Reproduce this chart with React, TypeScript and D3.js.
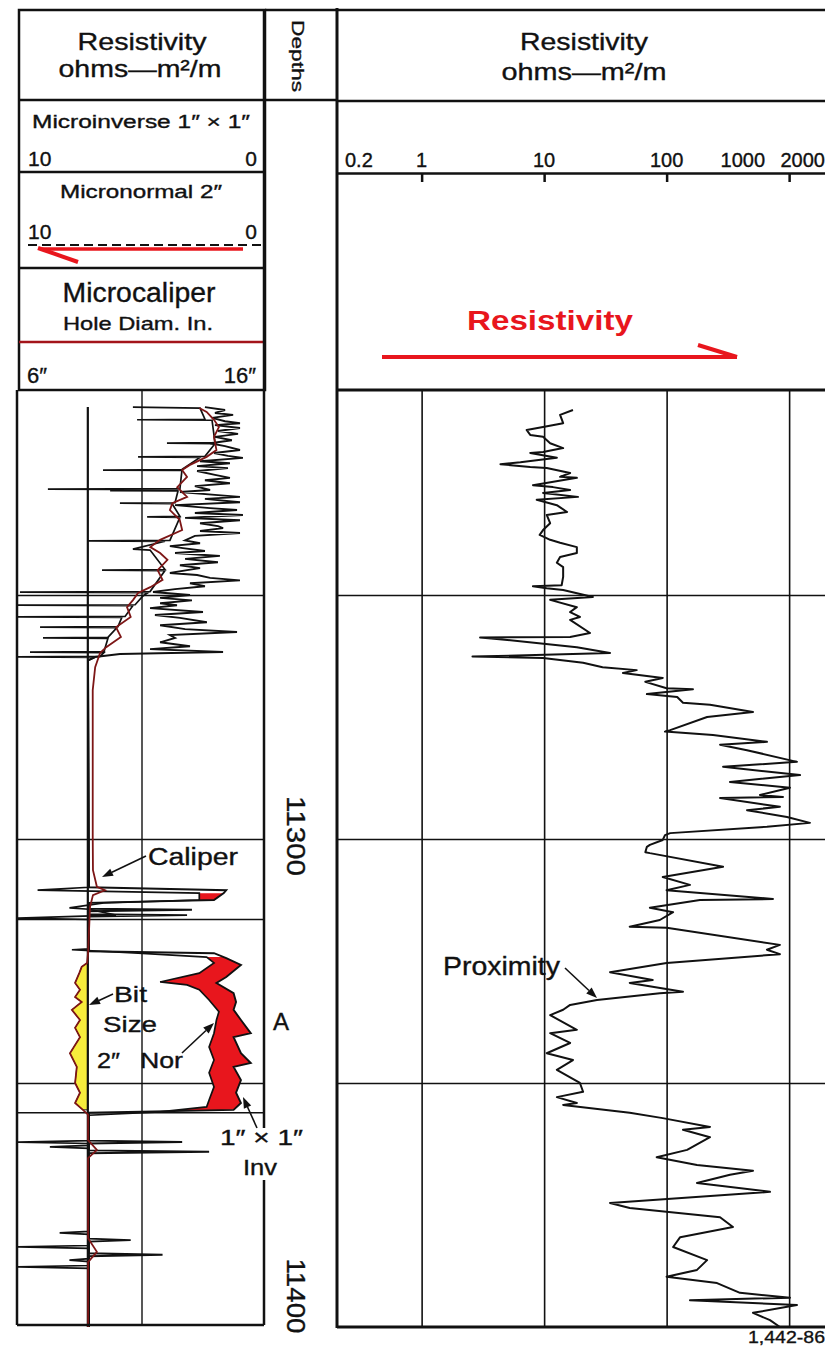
import React, { useEffect, useRef } from 'react';
import * as d3 from 'd3';

type Pt = [number, number];

const W = 825;
const H = 1347;

// depth (ft) scale and grid
const depthDomain = [11208, 11400];
const depthGrid = [11250, 11300, 11350];
const leftGridDepths = [11250, 11300, 11316.4, 11350, 11356];
const depthLabels = [11300, 11400];

// resistivity track (log)
const resDomain = [0.2, 2000];
const resGrid = [1, 10, 100, 1000];
const resLabels = ['0.2', '1', '10', '100', '1000', '2000'];
const resLabelValues = [0.2, 1, 10, 100, 1000, 2000];

// microlog scales
const microDomain = [10, 0];
const caliperDomain = [6, 16];
const BIT_SIZE = 8.85;
const bitSizeTop = 11211.5;

// [depth, ohm-m]
const proximity: Pt[] = [
  [11212.1, 17.2], [11213.1, 13.5], [11214.8, 14.3], [11215.6, 9.8], [11216.2, 7.2], [11217.2, 7.7],
  [11217.6, 9.8], [11218.9, 11.2], [11219.9, 14.3], [11220.7, 9.8], [11220.9, 7.7], [11221.9, 12.7],
  [11222.8, 6.4], [11223.2, 4.4], [11223.8, 7.7], [11224.0, 10.5], [11225.0, 16.3], [11225.8, 13.5],
  [11226.0, 18.5], [11227.5, 8.1], [11227.9, 11.8], [11228.5, 16.3], [11229.1, 9.8], [11229.9, 18.9],
  [11230.5, 8.7], [11231.6, 12.7], [11233.0, 15.4], [11233.6, 10.5], [11235.3, 11.2], [11236.7, 9.8],
  [11237.7, 9.2], [11238.7, 11.2], [11239.3, 13.5], [11240.2, 18.5], [11241.4, 18.5], [11242.2, 13.5],
  [11243.4, 12.7], [11244.3, 14.3], [11246.3, 14.3], [11248.0, 13.9], [11248.2, 8.1], [11248.6, 10.5],
  [11249.0, 14.3], [11250.4, 25], [11251.0, 11.2], [11252.5, 18.5], [11253.5, 16.3], [11254.5, 19.6],
  [11255.1, 16.3], [11257.8, 23.7], [11258.6, 16.3], [11258.7, 3.0], [11259.0, 4.1], [11260.7, 18.5],
  [11261.9, 34.5], [11262.4, 6.0], [11262.6, 2.6], [11262.9, 9.8], [11263.9, 20.8], [11264.8, 30],
  [11265.4, 57], [11266.0, 44], [11267.0, 93], [11267.8, 67], [11269.1, 100], [11269.3, 164],
  [11270.3, 69], [11270.9, 122], [11272.1, 136], [11272.5, 226], [11274.0, 507], [11275.0, 214],
  [11277.7, 107], [11278.0, 97], [11278.7, 239], [11280.1, 659], [11280.7, 273], [11281.8, 453],
  [11284.2, 1159], [11285.2, 289], [11286.9, 1227], [11288.3, 329], [11289.5, 1016], [11291.0, 578],
  [11291.4, 891], [11291.6, 273], [11293.4, 841], [11294.1, 453], [11295.5, 961], [11296.7, 1479],
  [11297.5, 659], [11298.8, 107], [11299.2, 97], [11300.2, 93], [11301.2, 73], [11301.6, 69],
  [11302.7, 67], [11302.9, 73], [11305.7, 289], [11307.8, 93], [11309.4, 155], [11310.5, 100],
  [11312.3, 738], [11312.5, 187], [11314.1, 73], [11315.0, 113], [11316.6, 88], [11318.0, 50],
  [11318.2, 100], [11321.7, 841], [11322.7, 659], [11323.6, 841], [11325.4, 100], [11327.3, 34.5],
  [11328.9, 77], [11329.5, 50], [11331.3, 136], [11331.6, 88], [11333.0, 27], [11334.0, 16.3],
  [11335.0, 14.3], [11336.1, 11.2], [11339.1, 18.5], [11339.8, 11.2], [11341.8, 16.3], [11343.9, 10.5],
  [11345.3, 17.2], [11347.3, 12.7], [11350.0, 19.6], [11351.8, 20.8], [11352.9, 12.7], [11354.1, 18.5],
  [11354.5, 14.3], [11356.1, 50], [11357.2, 93], [11359.0, 226], [11359.6, 136], [11361.1, 226],
  [11363.7, 147], [11365.2, 83], [11366.8, 177], [11368.0, 507], [11368.8, 329], [11370.5, 177],
  [11372.3, 698], [11374.6, 34.5], [11375.6, 50], [11377.5, 273], [11379.5, 348], [11381.6, 129],
  [11383.6, 113], [11386.3, 214], [11388.3, 177], [11389.7, 100], [11391.0, 258], [11393.0, 397],
  [11394.0, 1016], [11394.5, 155], [11395.5, 1159], [11397.1, 507], [11398.6, 698], [11400.0, 841],
];

// [depth, inches]
const caliper: Pt[] = [
  [11211.7, 13.4], [11212.5, 13.7], [11214.1, 14.0], [11215.6, 14.2], [11217.6, 14.0], [11220.3, 14.1],
  [11221.7, 13.7], [11223.4, 13.0], [11224.4, 12.7], [11225.8, 12.9], [11227.9, 12.5], [11229.9, 12.9],
  [11231.2, 12.3], [11232.6, 12.2], [11234.6, 12.6], [11236.7, 12.7], [11238.7, 11.8], [11240.2, 11.4],
  [11241.4, 11.8], [11242.8, 12.1], [11244.9, 11.7], [11246.9, 11.9], [11248.4, 11.4], [11249.6, 10.9],
  [11251.0, 10.7], [11252.5, 10.45], [11254.5, 10.6], [11256.6, 10.0], [11258.6, 10.2], [11260.7, 9.6],
  [11261.9, 9.35], [11264.8, 9.15], [11269.5, 9.05], [11279.7, 9.05], [11299.6, 9.05], [11306.4, 9.06],
  [11309.8, 9.22], [11310.5, 9.55], [11311.5, 9.06], [11313.9, 8.94], [11323.4, 8.86], [11325.4, 8.82],
  [11326.2, 8.6], [11327.5, 8.5], [11329.5, 8.33], [11330.9, 8.53], [11332.4, 8.33], [11333.4, 8.6],
  [11335.0, 8.2], [11337.1, 8.53], [11338.7, 8.33], [11340.6, 8.53], [11343.9, 8.12], [11346.7, 8.4],
  [11350.0, 8.33], [11352.0, 8.53], [11354.1, 8.33], [11355.5, 8.65], [11356.5, 8.86], [11361.7, 8.86],
  [11363.7, 9.22], [11365.4, 8.86], [11381.8, 8.86], [11384.6, 9.22], [11386.7, 8.86], [11400, 8.86],
];

// [depth, ohm-m] 1" x 1" microinverse
const microinverse: Pt[] = [
  [11211.5, 2.37], [11212.1, 1.55], [11212.7, 1.96], [11213.1, 1.22], [11213.7, 2.08], [11214.4, 1.55],
  [11214.8, 0.94], [11215.2, 1.96], [11215.8, 0.94], [11216.4, 1.84], [11217.0, 1.02], [11217.6, 1.96],
  [11218.3, 1.27], [11218.9, 2.16], [11219.5, 1.55], [11220.3, 0.94], [11220.9, 2.0], [11221.5, 1.43],
  [11221.9, 0.82], [11222.6, 2.57], [11223.0, 1.35], [11223.6, 2.69], [11224.0, 1.43], [11224.6, 2.69],
  [11225.4, 1.96], [11226.0, 1.35], [11226.5, 2.37], [11227.1, 1.35], [11227.7, 2.78], [11228.5, 2.16],
  [11228.9, 3.39], [11229.5, 1.96], [11229.9, 0.94], [11230.3, 2.37], [11231.0, 0.94], [11231.6, 3.59],
  [11232.2, 2.16], [11232.6, 1.06], [11233.2, 2.78], [11233.6, 0.82], [11234.2, 3.18], [11234.7, 0.94],
  [11235.3, 2.57], [11235.9, 1.84], [11236.3, 1.63], [11236.9, 2.57], [11237.3, 0.94], [11237.9, 2.78],
  [11238.8, 3.18], [11239.4, 2.57], [11240.0, 3.8], [11240.4, 3.27], [11241.0, 2.37], [11241.4, 3.59],
  [11242.0, 1.76], [11242.6, 3.18], [11243.3, 1.84], [11243.9, 3.39], [11244.5, 2.57], [11244.9, 3.1],
  [11245.5, 3.8], [11245.9, 2.69], [11246.5, 2.16], [11247.0, 0.94], [11247.6, 2.98], [11248.2, 2.37],
  [11248.8, 3.59], [11249.4, 4.49], [11250.0, 2.98], [11250.6, 4.2], [11251.1, 2.9], [11251.7, 4.2],
  [11252.1, 3.51], [11252.7, 4.61], [11253.5, 2.45], [11254.1, 4.41], [11254.7, 3.39], [11255.6, 2.29],
  [11256.2, 4.2], [11257.0, 3.18], [11257.6, 1.06], [11258.2, 3.8], [11258.8, 3.59], [11259.7, 4.2],
  [11260.5, 2.98], [11261.1, 4.61], [11261.7, 1.63], [11262.1, 5.84], [11262.7, 6.86], [11263.4, 7.14],
  [11309.9, 7.1], [11310.5, 1.5], [11311.1, 1.6], [11312.5, 2.0],
  [11313.1, 7.1], [11314.3, 7.1], [11314.5, 2.9], [11314.8, 7.1], [11315.4, 7.1], [11315.6, 3.1],
  [11315.9, 7.1], [11323.0, 7.1], [11323.4, 2.0], [11324.4, 1.5], [11325.8, 0.9], [11328.3, 1.5],
  [11329.5, 1.9], [11331.6, 1.2], [11333.4, 1.1], [11335.0, 1.2], [11337.1, 0.9], [11339.8, 0.5],
  [11340.6, 1.2], [11343.9, 0.9], [11345.9, 0.5], [11346.7, 1.2], [11349.4, 0.9], [11352.0, 1.1],
  [11354.1, 0.9], [11355.5, 1.2], [11356.1, 7.1], [11361.8, 7.1], [11362.1, 3.3], [11362.4, 7.1],
  [11363.8, 7.1], [11364.1, 2.2], [11364.4, 7.1], [11381.9, 7.1], [11382.2, 5.4], [11382.5, 7.1],
  [11384.9, 7.1], [11385.2, 4.1], [11385.5, 7.1], [11400, 7.1],
];

// [depth, ohm-m] 2" micronormal
const micronormal: Pt[] = [
  [11211.5, 5.31], [11211.7, 2.57],
  [11214.0, 2.37], [11214.1, 5.14], [11214.2, 2.08],
  [11218.8, 1.96], [11218.9, 3.92], [11219.0, 1.96],
  [11221.6, 2.37], [11221.7, 5.1], [11221.8, 2.57],
  [11224.3, 3.31], [11224.4, 6.53], [11224.5, 3.31],
  [11228.2, 3.39], [11228.3, 8.78], [11228.4, 3.47], [11228.6, 6.24], [11228.7, 3.47],
  [11231.1, 3.59], [11231.2, 5.84], [11231.3, 3.71],
  [11233.9, 3.39], [11234.0, 4.73], [11234.1, 3.39],
  [11238.8, 3.8], [11238.9, 7.14], [11239.0, 4.0],
  [11240.6, 5.31], [11240.8, 4.61],
  [11244.8, 4.0], [11244.9, 6.57], [11245.0, 4.0],
  [11249.3, 4.61], [11249.4, 9.92], [11249.5, 4.69],
  [11250.2, 4.9],
  [11252.0, 5.22], [11252.1, 10], [11252.2, 5.31],
  [11254.4, 5.63], [11254.5, 10], [11254.6, 5.76],
  [11256.5, 5.92], [11256.6, 9.1], [11256.7, 5.96],
  [11258.7, 6.33], [11258.8, 8.98], [11258.9, 6.33],
  [11261.6, 6.49], [11261.7, 9.51], [11261.8, 6.49],
  [11262.6, 6.65], [11262.7, 10], [11262.8, 6.86],
  [11263.4, 7.14],
  [11309.9, 7.1], [11310.5, 9.2], [11311.1, 2.6],
  [11312.5, 2.6], [11313.1, 6.5], [11314.1, 7.9], [11314.4, 7.1], [11315.6, 6.0], [11316.2, 10],
  [11316.5, 7.1], [11322.5, 7.1], [11322.7, 7.8], [11323.4, 5.1], [11324.2, 2.3], [11325.4, 2.0],
  [11327.5, 2.6], [11329.3, 4.2], [11329.9, 3.1], [11330.9, 2.6], [11333.0, 2.2], [11335.4, 1.8],
  [11337.1, 1.9], [11339.8, 2.0], [11342.6, 2.2], [11345.3, 2.0], [11347.9, 2.2], [11350.8, 2.0],
  [11353.5, 2.2], [11354.9, 2.3], [11355.9, 4.2], [11356.6, 7.1], [11361.8, 7.1], [11362.1, 10],
  [11362.4, 7.1], [11362.8, 7.1], [11363.1, 8.7], [11363.4, 7.1], [11380.4, 7.1], [11380.7, 8.3],
  [11381.0, 7.1], [11383.3, 7.1], [11383.6, 10], [11383.9, 7.1], [11386.0, 7.1], [11386.3, 7.9],
  [11386.6, 7.1], [11387.4, 7.1], [11387.7, 10], [11388.0, 7.1], [11400, 7.1],
];

// positive separation (normal > inverse) and mudcake zones
const redZones: Pt[] = [[11311.1, 11312.6], [11324.2, 11355.6]];
const yellowZone: Pt = [11325.4, 11355.5];

const FONT = "'Liberation Sans', Arial, Helvetica, sans-serif";
const RED = '#e8161d';
const YELLOW = '#f7ec3c';
const CAL = '#7d1616';

function interp(s: Pt[], d: number) {
  const i = d3.bisector((p: Pt) => p[0]).left(s, d);
  if (i <= 0) return s[0][1];
  if (i >= s.length) return s[s.length - 1][1];
  const a = s[i - 1], b = s[i];
  if (b[0] === d || b[0] === a[0]) return b[1];
  return a[1] + (b[1] - a[1]) * (d - a[0]) / (b[0] - a[0]);
}

export default function App() {
  const ref = useRef<SVGSVGElement>(null);

  useEffect(() => {
    const svg = d3.select(ref.current);
    svg.selectAll('*').remove();

    const y = d3.scaleLinear().domain(depthDomain).range([390, 1327]);
    const xRes = d3.scaleLog().domain(resDomain).range([336, 826]);
    const xMic = d3.scaleLinear().domain(microDomain).range([18, 263]);
    const xCal = d3.scaleLinear().domain(caliperDomain).range([18, 263]);

    svg.append('rect').attr('width', W).attr('height', H).attr('fill', '#fff');

    const line = (x1, y1, x2, y2, w = 2.5, color = '#111') =>
      svg.append('line').attr('x1', x1).attr('y1', y1).attr('x2', x2).attr('y2', y2)
        .attr('stroke', color).attr('stroke-width', w);

    const text = (x, yy, s, size, len?, anchor = 'middle', opt: any = {}) => {
      const t = svg.append('text').attr('x', x).attr('y', yy)
        .attr('font-family', FONT).attr('font-size', size)
        .attr('text-anchor', anchor).attr('fill', opt.fill || '#111')
        .attr('stroke', opt.fill || '#111').attr('stroke-width', opt.weight ? 0 : 0.35)
        .text(s);
      if (len) t.attr('textLength', len).attr('lengthAdjust', 'spacingAndGlyphs');
      if (opt.weight) t.attr('font-weight', opt.weight);
      if (opt.transform) t.attr('transform', opt.transform);
      return t;
    };

    const arrow = (x1, y1, x2, y2) => {
      const a = Math.atan2(y2 - y1, x2 - x1);
      const L = 11, w = 4;
      const bx = x2 - L * Math.cos(a), by = y2 - L * Math.sin(a);
      line(x1, y1, bx, by, 1.6);
      svg.append('polygon')
        .attr('points', [
          [x2, y2],
          [bx + w * Math.sin(a), by - w * Math.cos(a)],
          [bx - w * Math.sin(a), by + w * Math.cos(a)],
        ].map(p => p.join(',')).join(' '))
        .attr('fill', '#111');
    };

    // ---------- grids ----------
    svg.append('g').attr('transform', 'translate(0,390)')
      .call(d3.axisBottom(xRes).tickValues(resGrid).tickSize(937).tickFormat(() => ''))
      .call(g => g.select('.domain').remove())
      .call(g => g.selectAll('line').attr('stroke', '#111').attr('stroke-width', 1.6));
    svg.append('g').attr('transform', 'translate(337,0)')
      .call(d3.axisRight(y).tickValues(depthGrid).tickSize(489).tickFormat(() => ''))
      .call(g => g.select('.domain').remove())
      .call(g => g.selectAll('line').attr('stroke', '#111').attr('stroke-width', 1.6));
    svg.append('g').attr('transform', 'translate(17,0)')
      .call(d3.axisRight(y).tickValues(leftGridDepths).tickSize(247).tickFormat(() => ''))
      .call(g => g.select('.domain').remove())
      .call(g => g.selectAll('line').attr('stroke', '#111').attr('stroke-width', 1.4));
    line(142, 390, 142, 1325, 1.4);

    // ---------- fills ----------
    const sepArea = d3.area<number>()
      .y(d => y(d))
      .x0(d => xMic(interp(micronormal, d)))
      .x1(d => xMic(interp(microinverse, d)));
    redZones.forEach(([d0, d1]) => {
      const ds = Array.from(new Set([d0, d1, ...micronormal.map(p => p[0]), ...microinverse.map(p => p[0])]))
        .filter(d => d >= d0 && d <= d1).sort((a, b) => a - b);
      svg.append('path').attr('d', sepArea(ds)).attr('fill', RED);
    });
    const cakeArea = d3.area<Pt>()
      .y(d => y(d[0]))
      .x0(d => xCal(d[1]))
      .x1(() => xCal(BIT_SIZE));
    svg.append('path')
      .attr('d', cakeArea(caliper.filter(p => p[0] >= yellowZone[0] && p[0] <= yellowZone[1])))
      .attr('fill', YELLOW).attr('stroke', '#222').attr('stroke-width', 1);

    // ---------- curves ----------
    const micLine = d3.line<Pt>().x(d => xMic(d[1])).y(d => y(d[0]));
    svg.append('path').attr('d', micLine(micronormal)).attr('fill', 'none')
      .attr('stroke', '#111').attr('stroke-width', 1.7);
    svg.append('path').attr('d', micLine(microinverse)).attr('fill', 'none')
      .attr('stroke', '#111').attr('stroke-width', 1.9);

    line(xCal(BIT_SIZE), y(bitSizeTop), xCal(BIT_SIZE), y(11400), 2.2);

    const calLine = d3.line<Pt>().x(d => xCal(d[1])).y(d => y(d[0]));
    svg.append('path').attr('d', calLine(caliper)).attr('fill', 'none')
      .attr('stroke', CAL).attr('stroke-width', 1.8);

    const resLine = d3.line<Pt>().x(d => xRes(d[1])).y(d => y(d[0]));
    svg.append('path').attr('d', resLine(proximity)).attr('fill', 'none')
      .attr('stroke', '#111').attr('stroke-width', 2).attr('stroke-linejoin', 'round');

    // ---------- borders ----------
    svg.append('rect').attr('x', 19).attr('y', 10).attr('width', 246).attr('height', 380)
      .attr('fill', 'none').attr('stroke', '#111').attr('stroke-width', 2.5);
    line(19, 100, 265, 100);
    line(19, 172, 265, 172);
    line(19, 268, 265, 268);
    line(19, 342, 265, 342, 2.5, '#a3141a');
    line(28, 245, 264, 245, 1.8).attr('stroke-dasharray', '9 5');
    line(243, 249, 40, 249, 3.5, RED);
    line(38, 248, 78, 262, 4, RED);
    line(265, 10, 337, 10);
    line(265, 100, 337, 100);
    line(337, 10, 826, 10);
    line(337, 101, 826, 101);
    line(337, 390, 826, 390, 2.8);
    line(337, 8, 337, 1328, 3);
    svg.append('g').attr('transform', 'translate(0,173)')
      .call(d3.axisBottom(xRes).tickValues(resGrid).tickSize(9).tickSizeOuter(0).tickFormat(() => ''))
      .call(g => g.select('.domain').attr('stroke', '#111').attr('stroke-width', 2.5))
      .call(g => g.selectAll('line').attr('stroke', '#111').attr('stroke-width', 2.5));
    line(337, 1327, 826, 1327, 2.8);
    line(17, 390, 17, 1325);
    line(17, 1325, 264, 1325);
    line(264, 10, 264, 1325);

    // ---------- header text ----------
    text(142, 50, 'Resistivity', 24, 129);
    text(140, 77, 'ohms\u2014m\u00b2/m', 24, 163);
    text(141, 128, 'Microinverse 1\u2033 \u00d7 1\u2033', 18, 218);
    text(28, 166, '10', 21, null, 'start');
    text(257, 166, '0', 21, null, 'end');
    text(141, 198, 'Micronormal 2\u2033', 18, 162);
    text(28, 239, '10', 21, null, 'start');
    text(257, 239, '0', 21, null, 'end');
    text(139, 302, 'Microcaliper', 27, 153);
    text(138, 330, 'Hole Diam. In.', 19, 150);
    text(27, 383, '6\u2033', 22, null, 'start');
    text(256, 383, '16\u2033', 22, null, 'end');
    text(0, 0, 'Depths', 17, 72, 'middle', { transform: 'translate(292,56) rotate(90)' });

    text(584, 50, 'Resistivity', 24, 128);
    text(584, 80, 'ohms\u2014m\u00b2/m', 24, 165);
    resLabels.forEach((s, i) => {
      const v = resLabelValues[i];
      const first = i === 0, last = i === resLabels.length - 1;
      const x = first ? xRes(v) + 9 : last ? xRes(v) - 1 : s === '1000' ? xRes(v) - 24 : xRes(v);
      text(x, 167, s, 20, null, first ? 'start' : (last || s === '1000') ? 'end' : 'middle');
    });
    text(550, 330, 'Resistivity', 27, 166, 'middle', { fill: RED, weight: 'bold' });
    line(382, 357, 737, 357, 4, RED);
    line(737, 357, 698, 345, 4, RED);

    // ---------- depth column ----------
    depthLabels.forEach((d, i) => {
      const cy = i === depthLabels.length - 1 ? y(d) - 31 : y(d) - 3;
      text(0, 0, String(d), 25, i === 0 ? 80 : 75, 'middle', { transform: `translate(287,${cy}) rotate(90)` });
    });
    text(281, 1030, 'A', 24);

    // ---------- annotations ----------
    text(148, 865, 'Caliper', 23, 90, 'start');
    arrow(146, 856, 102, 877);
    text(114, 1002, 'Bit', 22, 33, 'start');
    text(103, 1032, 'Size', 22, 54, 'start');
    text(97, 1068, '2\u2033', 22, 23, 'start');
    text(140, 1068, 'Nor', 22, 43, 'start');
    arrow(113, 994, 89, 1005);
    arrow(182, 1053, 214, 1023);
    svg.append('rect').attr('x', 216).attr('y', 1128).attr('width', 90).attr('height', 52).attr('fill', '#fff');
    text(220, 1145, '1\u2033 \u00d7 1\u2033', 22, 83, 'start');
    text(243, 1175, 'Inv', 22, 34, 'start');
    arrow(257, 1128, 243, 1097);
    text(443, 975, 'Proximity', 25, 117, 'start');
    arrow(565, 968, 597, 998);
    text(825, 1343, '1,442-86', 17, 77, 'end');
  }, []);

  return (
    <div style={{ position: 'absolute', left: 0, top: 0 }}>
      <svg ref={ref} width={W} height={H} style={{ display: 'block' }} />
    </div>
  );
}
